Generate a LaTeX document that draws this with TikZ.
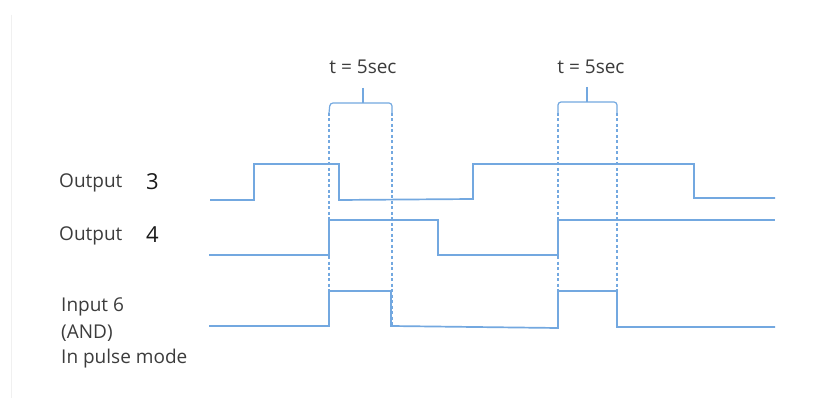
\documentclass[tikz,border=0pt]{standalone}
\usepackage{fontspec}
\setmainfont{Open Sans}
\definecolor{wave}{RGB}{115,168,224}
\definecolor{txt}{RGB}{60,60,60}
\begin{document}
\begin{tikzpicture}[x=1pt,y=-1pt,
  sig/.style={draw=wave,line width=1.7pt,line join=miter},
  guide/.style={draw=wave,line width=1.2pt,dash pattern=on 3pt off 2.5pt},
  brace/.style={draw=wave,line width=1.2pt,rounded corners=3pt},
  lbl/.style={font=\fontsize{19}{23}\selectfont,text=txt,inner sep=0pt,anchor=west},
  num/.style={font=\fontsize{22}{25}\selectfont,text=black!90,inner sep=0pt,anchor=west}]
\useasboundingbox (0,0) rectangle (830,406);
\fill[white] (0,0) rectangle (830,406);
\draw[black!6,line width=0.8pt] (11,15) -- (11,398);
% labels
\node[lbl] (o3) at (59,183) {Output};
\node[num] (n3) at (146,182) {3};
\node[lbl] (o4) at (59,236) {Output};
\node[num] (n4) at (146,235) {4};
\node[lbl] (i6) at (61,307) {Input 6};
\node[lbl] (and) at (61,333) {(AND)};
\node[lbl] (pm) at (61,359) {In pulse mode};
\node[lbl,anchor=center] (t1) at (363,67) {t = 5sec};
\node[lbl,anchor=center] (t2) at (591,67) {t = 5sec};
% dashed guides
\coordinate (d1t) at (329,113); \coordinate (d1b) at (329,326);
\coordinate (d2t) at (392,113); \coordinate (d2b) at (392,326);
\coordinate (d3t) at (558,113); \coordinate (d3b) at (558,328);
\coordinate (d4t) at (617,113); \coordinate (d4b) at (617,327);
\draw[guide] (d1t) -- (d1b);
\draw[guide] (d2t) -- (d2b);
\draw[guide] (d3t) -- (d3b);
\draw[guide] (d4t) -- (d4b);
% braces
\coordinate (b1) at (363,88); \coordinate (b2) at (587,87);
\draw[brace] (d1t) -- (330,103) -- (392,103) -- (d2t);
\draw[wave,line width=1.2pt] (b1) -- (363,103);
\draw[brace] (d3t) -- (558,102) -- (617,102) -- (d4t);
\draw[wave,line width=1.2pt] (b2) -- (587,102);
% Output 3
\draw[sig] (210,200) -- (254,200) -- (254,164) -- (339,164) -- (339,200) -- (473,199) -- (473,164) -- (694,164) -- (694,198) -- (775,198);
% Output 4
\draw[sig] (209,255) -- (329,255) -- (329,220) -- (438,220) -- (438,255) -- (558,255) -- (558,220) -- (775,220);
% Input 6
\draw[sig] (209,326) -- (329,326) -- (329,291) -- (391,291) -- (391,326) -- (558,328) -- (558,291) -- (617,291) -- (617,327) -- (775,327);
\end{tikzpicture}
\end{document}
